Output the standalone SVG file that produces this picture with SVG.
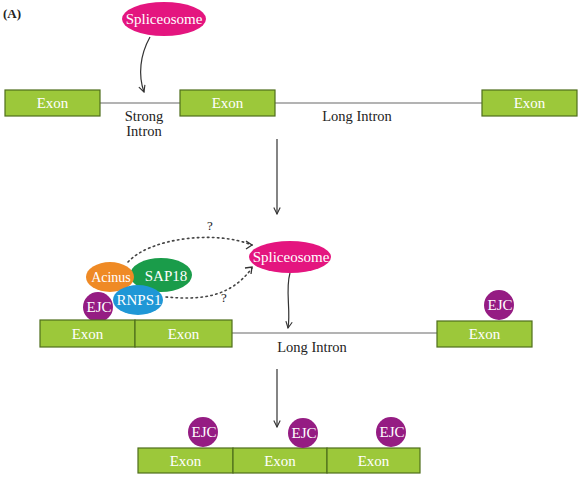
<svg xmlns="http://www.w3.org/2000/svg" width="582" height="480" viewBox="0 0 582 480">
<defs>
<style>
.exon{fill:#9cc83a;stroke:#4f6e1c;stroke-width:1.2}
.t{font-family:"Liberation Serif","Times New Roman",serif;text-anchor:middle}
.w{fill:#ffffff;font-size:15px}
.k{fill:#222222;font-size:14.5px}
.intron{stroke:#9a9a9a;stroke-width:1.5;fill:none}
.arr{stroke:#333333;stroke-width:1.2;fill:none}
.dot{stroke:#444444;stroke-width:1.6;fill:none;stroke-dasharray:1.5 3.5;stroke-linecap:round}
.ejc{fill:#951c83}
</style>
<marker id="ah" viewBox="0 0 10 10" refX="9" refY="5" markerWidth="8" markerHeight="8" orient="auto" markerUnits="userSpaceOnUse">
<path d="M1,1 L9,5 L1,9" fill="none" stroke="#333333" stroke-width="1.4"/>
</marker>
</defs>
<rect width="582" height="480" fill="#ffffff"/>
<text x="3" y="18" style="font-family:'Liberation Serif',serif;font-weight:bold;font-size:13px;fill:#222">(A)</text>

<g id="connectors">
<line class="intron" x1="100" y1="103" x2="180" y2="103"/>
<line class="intron" x1="275" y1="103" x2="482" y2="103"/>
<line class="intron" x1="232" y1="333" x2="437" y2="333"/>
<path class="arr" d="M150,37 C140,55 138,75 144,92" marker-end="url(#ah)"/>
<line class="arr" x1="277" y1="139" x2="277" y2="214" marker-end="url(#ah)"/>
<path class="arr" d="M290,273 C285,290 291,310 288,328" marker-end="url(#ah)"/>
<line class="arr" x1="277" y1="369" x2="277" y2="427" marker-end="url(#ah)"/>
<path class="dot" d="M128,262 C150,238 215,230 252,245"/>
<path d="M246,241 L252,245 L246,249" fill="none" stroke="#333" stroke-width="1.3"/>
<path class="dot" d="M166,297 C200,300 230,298 252,268"/>
<path d="M245,268 L252,267 L251,274" fill="none" stroke="#333" stroke-width="1.3"/>
</g>

<g id="label-q1"><text class="t k" x="210" y="230" style="font-size:13px">?</text></g>
<g id="label-q2"><text class="t k" x="224" y="302" style="font-size:13px">?</text></g>

<g id="spliceosome-top">
<ellipse cx="164" cy="19" rx="42" ry="17" fill="#e4157f"/>
<text class="t w" x="164" y="24">Spliceosome</text>
</g>
<g id="exon-top-1"><rect class="exon" x="5" y="90" width="95" height="26"/><text class="t w" x="52.5" y="108">Exon</text></g>
<g id="exon-top-2"><rect class="exon" x="180" y="90" width="95" height="26"/><text class="t w" x="227.5" y="108">Exon</text></g>
<g id="exon-top-3"><rect class="exon" x="482" y="90" width="95" height="26"/><text class="t w" x="529.5" y="108">Exon</text></g>
<g id="label-strong"><text class="t k" x="144" y="121">Strong</text><text class="t k" x="144" y="136">Intron</text></g>
<g id="label-long-top"><text class="t k" x="357" y="121">Long Intron</text></g>

<g id="spliceosome-mid">
<ellipse cx="290" cy="257" rx="41" ry="16" fill="#e4157f"/>
<text class="t w" x="291" y="262">Spliceosome</text>
</g>
<g id="sap18"><ellipse cx="161" cy="275" rx="31" ry="17" fill="#1a9c4a"/><text class="t w" x="166" y="281">SAP18</text></g>
<g id="acinus"><ellipse cx="110" cy="277" rx="24" ry="15" fill="#ef8a25"/><text class="t w" x="111" y="282" style="font-size:14px">Acinus</text></g>
<g id="ejc-mid"><circle class="ejc" cx="98" cy="307" r="15"/><text class="t w" x="99" y="312">EJC</text></g>
<g id="rnps1"><ellipse cx="138" cy="300" rx="25" ry="15" fill="#1f97d6"/><text class="t w" x="139" y="305">RNPS1</text></g>
<g id="exon-mid-1"><rect class="exon" x="40" y="320" width="95" height="27"/><text class="t w" x="87.5" y="339">Exon</text></g>
<g id="exon-mid-2"><rect class="exon" x="135" y="320" width="97" height="27"/><text class="t w" x="183.5" y="339">Exon</text></g>
<g id="exon-mid-3"><rect class="exon" x="437" y="321" width="95" height="26"/><text class="t w" x="484.5" y="339">Exon</text></g>
<g id="ejc-mid-r"><circle class="ejc" cx="499" cy="305" r="15"/><text class="t w" x="500" y="310">EJC</text></g>
<g id="label-long-mid"><text class="t k" x="312" y="352">Long Intron</text></g>

<g id="exon-bot-1"><rect class="exon" x="138" y="448" width="95" height="25"/><text class="t w" x="185.5" y="466">Exon</text></g>
<g id="exon-bot-2"><rect class="exon" x="233" y="448" width="94" height="25"/><text class="t w" x="280" y="466">Exon</text></g>
<g id="exon-bot-3"><rect class="exon" x="327" y="448" width="93" height="25"/><text class="t w" x="373.5" y="466">Exon</text></g>
<g id="ejc-bot-1"><circle class="ejc" cx="203" cy="432" r="15"/><text class="t w" x="204" y="437">EJC</text></g>
<g id="ejc-bot-2"><circle class="ejc" cx="303" cy="433" r="15"/><text class="t w" x="304" y="438">EJC</text></g>
<g id="ejc-bot-3"><circle class="ejc" cx="391" cy="432" r="15"/><text class="t w" x="392" y="437">EJC</text></g>
</svg>
